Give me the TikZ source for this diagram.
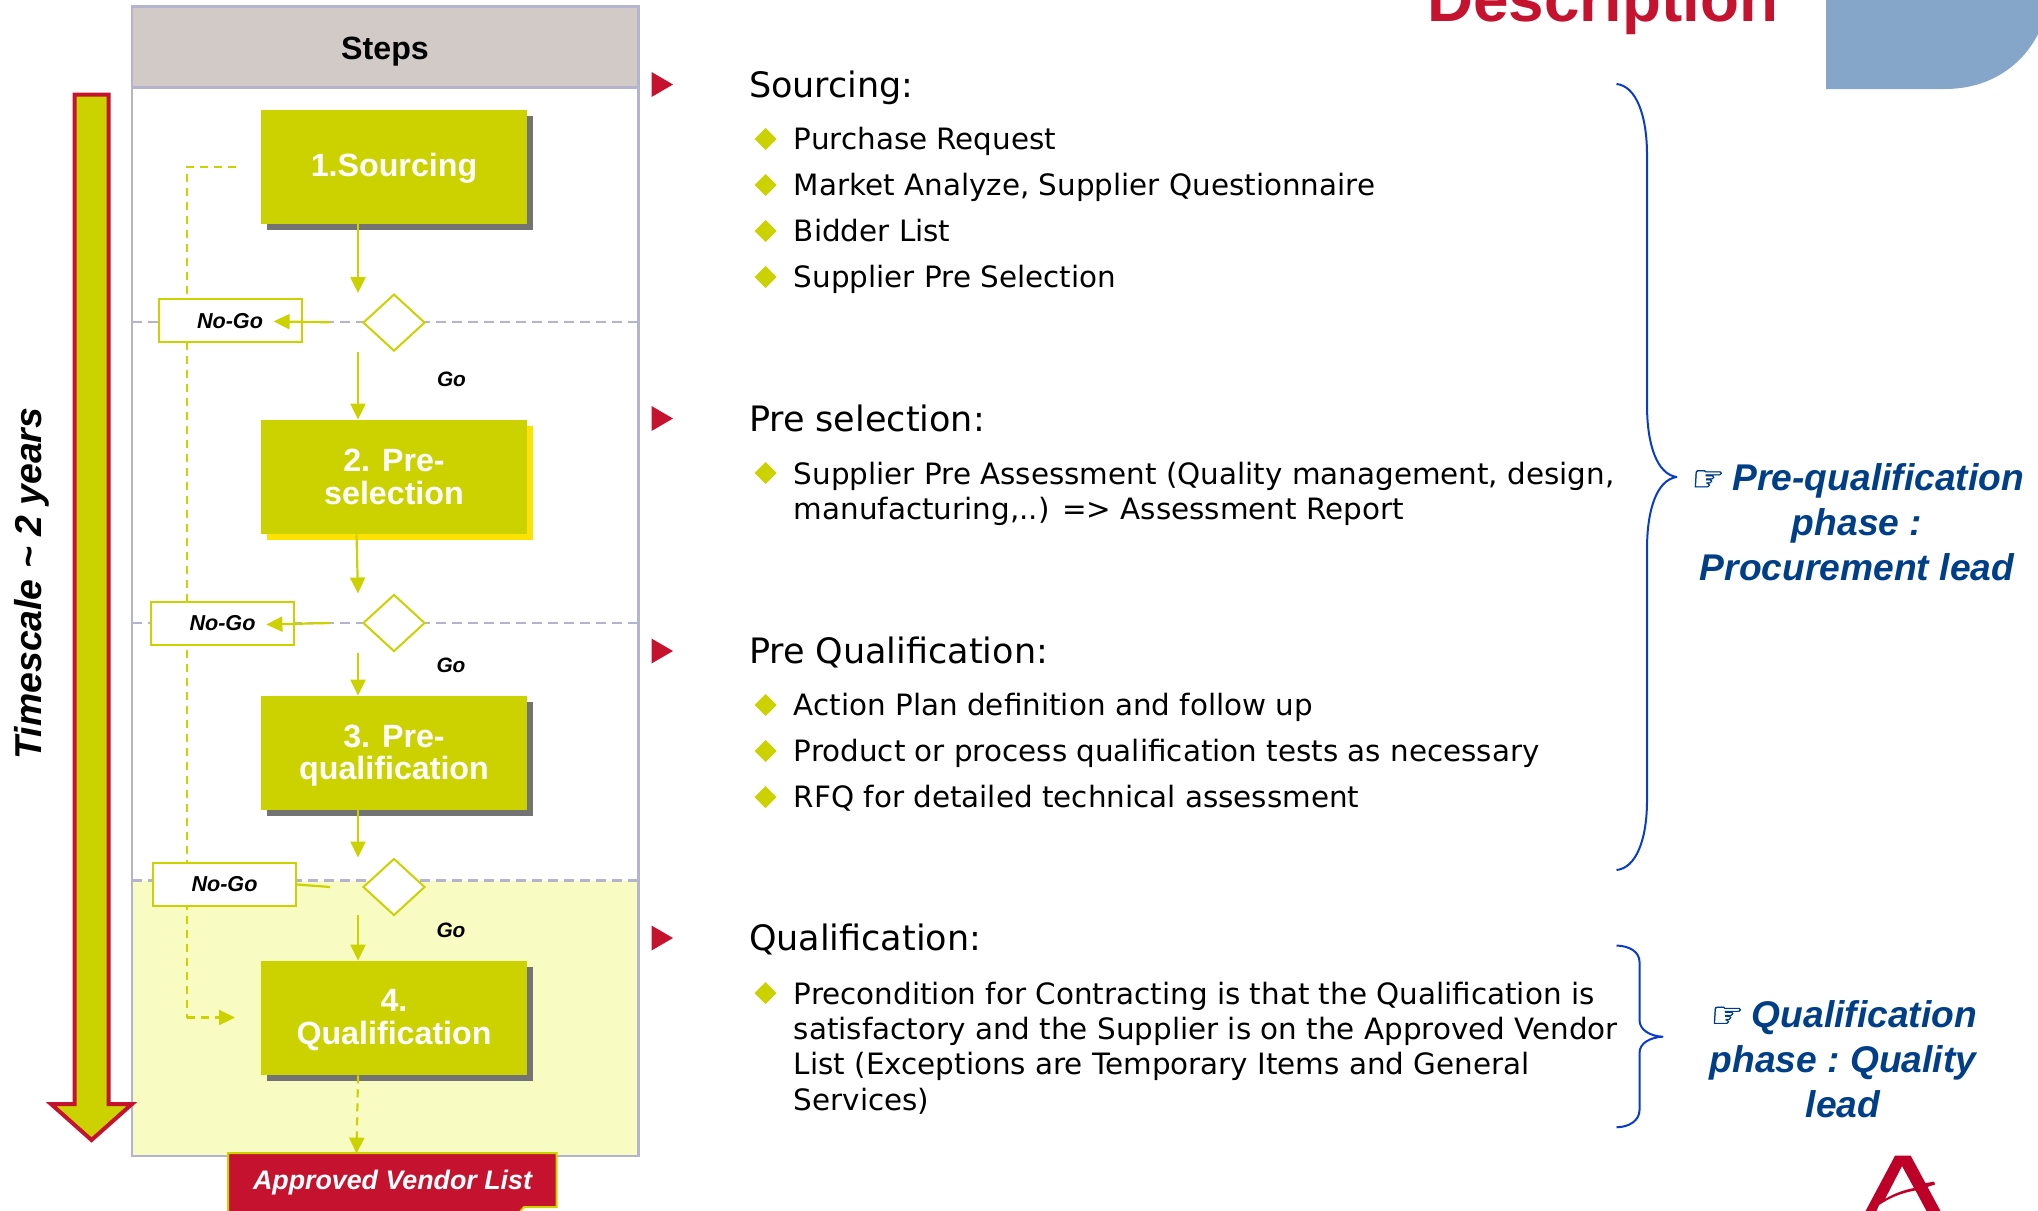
\documentclass[tikz,border=0pt]{standalone}
\usepackage{fontspec}
\setmainfont{Liberation Sans}
\newfontfamily\bodyfont{DejaVu Sans}
\newfontfamily\handfont[FakeBold=1.5,FakeSlant=0.15]{DejaVu Sans}
\usetikzlibrary{arrows.meta}
\usetikzlibrary{shapes.geometric}
\usetikzlibrary{shadows}

\definecolor{leaf}{HTML}{CBD200}
\definecolor{pale}{HTML}{F8FBC2}
\definecolor{crimson}{HTML}{C4122F}
\definecolor{slate}{HTML}{B4B4CE}
\definecolor{headgrey}{HTML}{D2CAC7}
\definecolor{navy}{HTML}{003F87}
\definecolor{bracecol}{HTML}{0A3CCC}
\definecolor{tabblue}{HTML}{85A6C8}
\definecolor{logored}{HTML}{BE0028}

\tikzset{
  stepbox/.style={fill=leaf, text=white, font=\fontsize{16.1}{16.2}\selectfont\bfseries, align=center,
    minimum width=133pt, minimum height=57pt, inner sep=0pt,
    drop shadow={shadow xshift=2.75pt, shadow yshift=-2.75pt, fill=#1, opacity=1}},
  stepbox/.default={black!55},
  gate/.style={diamond, draw=leaf, fill=white, line width=1pt, minimum width=31pt, minimum height=28.5pt, inner sep=0pt},
  nogo/.style={draw=leaf, fill=white, line width=1pt, minimum width=71.5pt, minimum height=21.5pt, inner sep=0pt,
    font=\fontsize{10.8}{12}\selectfont\bfseries\itshape},
  golabel/.style={font=\fontsize{10.4}{12}\selectfont\bfseries\itshape},
  flow/.style={draw=leaf, line width=1.1pt, -{Triangle[length=8pt,width=7.5pt]}},
  flowdash/.style={flow, dash pattern=on 4pt off 3pt},
  level/.style={draw=slate, line width=1.3pt, dash pattern=on 5pt off 3pt},
  heading/.style={anchor=base west, inner sep=0pt, font=\bodyfont\fontsize{17.5}{20}\selectfont},
  item/.style={anchor=base west, inner sep=0pt, font=\bodyfont\fontsize{14.7}{17.7}\selectfont},
  itemblock/.style={anchor=west, inner sep=0pt, align=left, font=\bodyfont\fontsize{14.7}{17.7}\selectfont},
  phase/.style={text=navy, align=center, font=\frenchspacing\fontsize{18.6}{22.5}\selectfont\bfseries\itshape},
  brace/.style={draw=bracecol, line width=1pt, line join=round},
}
\newcommand{\hand}{{\handfont\fontsize{18}{18}\selectfont ☞}}
\newcommand{\redmark}[1]{\fill[crimson] (651.5,#1-12.5) -- (673,#1) -- (651.5,#1+12.5) -- cycle;}
\newcommand{\leafbullet}[1]{\fill[leaf] (754.5,#1) -- (765.5,#1-11) -- (776.5,#1) -- (765.5,#1+11) -- cycle;}

\begin{document}
\begin{tikzpicture}[x=0.5pt,y=-0.5pt]
\useasboundingbox (0,0) rectangle (2038,1210);

% left panel
\fill[pale] (132,880.5) rectangle (638.5,1156);
\fill[headgrey] (132,6.5) rectangle (638.5,87.5);
\draw[slate, line width=1.25pt] (132,6.5) rectangle (638.5,1156);
\draw[slate, line width=1.25pt] (132,87.5) -- (638.5,87.5);
\node[font=\fontsize{16.1}{18}\selectfont\bfseries] (steps) at (385,51.5) {Steps};

% timescale
\draw[crimson, fill=leaf, line width=2pt] (74.5,94.5) -- (108.7,94.5) -- (108.7,1104) -- (132,1104) -- (91.5,1140) -- (51,1104) -- (74.5,1104) -- cycle;
\node[rotate=90, font=\fontsize{18.7}{20}\selectfont\bfseries\itshape] (timescale) at (32,583.5) {Timescale \textasciitilde{} 2 years};

% levels
\coordinate (flowx) at (358,0);
\coordinate (backx) at (187,0);
\coordinate (left1) at (132,322);
\coordinate (right1) at (638.5,322);
\coordinate (left2) at (132,623);
\coordinate (right2) at (638.5,623);
\coordinate (left3) at (132,880.5);
\coordinate (right3) at (638.5,880.5);
\draw[level] (left1) -- (right1);
\draw[level] (left2) -- (right2);
\draw[level] (left3) -- (right3);

% no-go return
\coordinate (backtop) at (236,167);
\coordinate (backend) at (235,1017.5);
\draw[draw=leaf, line width=1.1pt, dash pattern=on 4pt off 3pt] (backtop) -- (backtop -| backx) -- (backend -| backx);
\draw[flowdash] (backend -| backx) -- (backend);

% steps
\node[stepbox] (step1) at (394,167) {\rule{0pt}{13pt}1.Sourcing};
\node[stepbox={yellow!85!orange}] (step2) at (394,477) {2. Pre-\\selection};
\node[stepbox] (step3) at (394,753) {\rule{0pt}{14pt}3. Pre-\\qualification};
\node[stepbox] (step4) at (394,1018) {\rule{0pt}{13.2pt}4.\\Qualification};

\node[gate] (gate1) at (394,322.6) {};
\node[gate] (gate2) at (394,623) {};
\node[gate] (gate3) at (394,887) {};

\node[nogo] (nogo1) at (230,320.7) {No-Go};
\node[nogo] (nogo2) at (222.5,623.5) {No-Go};
\node[nogo] (nogo3) at (224.5,884.5) {No-Go};

\node[golabel] (go1) at (451.5,379.6) {Go};
\node[golabel] (go2) at (451,665) {Go};
\node[golabel] (go3) at (451,930) {Go};

\draw[fill=crimson, draw=leaf, line width=1pt] (228,1153) -- (556.5,1153) -- (556.5,1207) -- (524,1207) -- (519,1213) -- (228,1213) -- cycle;
\node[text=white, minimum width=164pt, minimum height=29pt, inner sep=0pt,
  font=\fontsize{13.4}{15}\selectfont\bfseries\itshape] (vendor) at (392.5,1183) {Approved Vendor List};

% connectors
\draw[flow] (step1.south -| flowx) -- (gate1.north -| flowx);
\draw[flow] (gate1.south -| flowx) -- (step2.north -| flowx);
\draw[flow] ([xshift=-0.75pt]step2.south -| flowx) -- (gate2.north -| flowx);
\draw[flow] (gate2.south -| flowx) -- (step3.north -| flowx);
\draw[flow] (step3.south -| flowx) -- (gate3.north -| flowx);
\draw[flow] ([yshift=0.75pt]gate3.south -| flowx) -- (step4.north -| flowx);
\draw[flowdash] (step4.south -| flowx) -- ([xshift=-0.75pt]vendor.north -| flowx);

\coordinate (stub1) at (330,322.3);
\coordinate (stub2) at (330,623);
\coordinate (stub3) at (330,887);
\coordinate (tip1) at (273.6,321.4);
\coordinate (tip2) at (266.4,624.5);
\draw[flow] (stub1) -- (tip1);
\draw[flow] (stub2) -- (tip2);
\draw[draw=leaf, line width=1.1pt] (stub3) -- (nogo3.east);

% description
\node[text=crimson, anchor=base west, inner sep=0pt, font=\fontsize{31.9}{34}\selectfont\bfseries] (title) at (1427,21.7) {Description};
\fill[tabblue] (1826,-2) -- (1826,89) -- (1945,89) .. controls (1990,89) and (2024,65) .. (2040,30) -- (2040,-2) -- cycle;

\redmark{84.5}
\redmark{418.5}
\redmark{651}
\redmark{938}

\node[heading] (head1) at (748.6,97.3) {Sourcing:};
\node[heading] (head2) at (748.6,431.3) {Pre selection:};
\node[heading] (head3) at (748.6,663.8) {Pre Qualification:};
\node[heading] (head4) at (748.6,950.8) {Qualification:};

\leafbullet{139}
\leafbullet{185}
\leafbullet{231}
\leafbullet{277}
\leafbullet{473}
\leafbullet{705}
\leafbullet{751}
\leafbullet{797}
\leafbullet{993}

\node[item] (item1) at (793.5,149.5) {Purchase Request};
\node[item] (item2) at (793.5,195.5) {Market Analyze, Supplier Questionnaire};
\node[item] (item3) at (793.5,241.5) {Bidder List};
\node[item] (item4) at (793.5,287.5) {Supplier Pre Selection};
\node[itemblock] (item5) at (793.5,494) {Supplier Pre Assessment (Quality management, design,\\manufacturing,..) => Assessment Report};
\node[item] (item6) at (793.5,715.5) {Action Plan definition and follow up};
\node[item] (item7) at (793.5,761.5) {Product or process qualification tests as necessary};
\node[item] (item8) at (793.5,807.5) {RFQ for detailed technical assessment};
\node[itemblock] (item9) at (793.5,1048) {Precondition for Contracting is that the Qualification is\\satisfactory and the Supplier is on the Approved Vendor\\List (Exceptions are Temporary Items and General\\Services)};

% braces
\draw[brace] (1616.5,84) .. controls (1636,86) and (1647,115) .. (1647,155) -- (1647,405) .. controls (1647,445) and (1657,474) .. (1676.5,477) .. controls (1657,480) and (1647,509) .. (1647,549) -- (1647,800) .. controls (1647,840) and (1636,868) .. (1616.5,870);
\draw[brace] (1616.5,945.5) .. controls (1630,946) and (1639.5,952) .. (1639.5,962) -- (1639.5,1020) .. controls (1639.5,1030) and (1650,1036) .. (1662.5,1036.7) .. controls (1650,1037.5) and (1639.5,1043) .. (1639.5,1053) -- (1639.5,1110) .. controls (1639.5,1120) and (1630,1127) .. (1616.5,1127.3);

\node[phase] (phase1) at (1857,522.5) {\hand{} Pre-qualification\\phase :\\Procurement lead};
\node[phase] (phase2) at (1843,1059) {\hand{} Qualification\\phase : Quality\\lead};

% logo
\fill[logored, even odd rule] (1865,1212) -- (1895,1155.7) -- (1910.7,1155.7) -- (1941,1212) -- (1927,1212) -- (1915.5,1190.5) .. controls (1900,1193) and (1888,1199) .. (1879,1205) -- (1876,1212) -- cycle
  (1902,1166) -- (1914,1188) .. controls (1903,1190) and (1893,1194) .. (1885,1199) -- cycle;
\fill[logored] (1916,1185) -- (1934,1181.5) -- (1935,1184.5) -- (1918,1190) -- cycle;
\end{tikzpicture}
\end{document}
